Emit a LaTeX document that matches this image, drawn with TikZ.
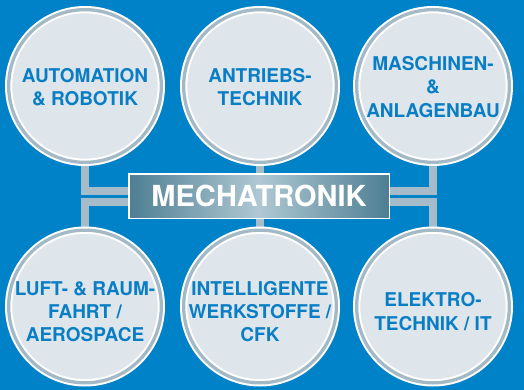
\documentclass[tikz,border=0pt]{standalone}
\usepackage{fontspec}
\setmainfont{TeX Gyre Heros}
\usetikzlibrary{backgrounds}
\definecolor{mtblue}{HTML}{0082C8}
\definecolor{mttext}{HTML}{0A7EC4}
\definecolor{mtfill}{HTML}{DEE6EC}
\definecolor{mtring}{HTML}{A3BAC6}
\definecolor{mtlink}{HTML}{A6BDC9}
\definecolor{mtdark}{HTML}{4E7E93}
\definecolor{mtlight}{HTML}{AFC8D3}

\begin{document}
\begin{tikzpicture}[x=1pt,y=1pt,
  topic/.style={circle,draw=white,line width=2pt,double=mtring,double distance=3.3pt,
    fill=mtfill,minimum size=152.7pt,inner sep=0pt},
  topictext/.style={text=mttext,font=\bfseries\fontsize{19}{23.3}\selectfont,align=center},
  core/.style={draw=white,line width=1.5pt,left color=mtdark,right color=mtdark,
    middle color=mtlight,minimum width=260.5pt,minimum height=44.5pt,inner sep=0pt,
    text=white,font=\bfseries\fontsize{29}{34}\selectfont},
  link/.style={draw=mtlink,line width=8.5pt}]
  \useasboundingbox (0,0) rectangle (524,-390);
  \node[core] (mech) at (259,-196) {MECHATRONIK};
  \foreach \name/\x/\y/\dy/\txt in {
      auto/85/-86/-1pt/{AUTOMATION\\\& ROBOTIK},
      antr/260/-86/-1pt/{ANTRIEBS-\\TECHNIK},
      masch/433/-86/-1pt/{MASCHINEN-\\\&\\ANLAGENBAU},
      luft/85/-306.5/-5pt/{LUFT- \& RAUM-\\FAHRT /\\AEROSPACE},
      intel/260/-306.5/-5pt/{INTELLIGENTE\\WERKSTOFFE /\\CFK},
      elek/433/-306.5/-5pt/{ELEKTRO-\\TECHNIK / IT}}
    \node[topic,label={[topictext,yshift=\dy]center:{\txt}}] (\name) at (\x,\y) {};
  \begin{scope}[on background layer]
    \fill[mtblue] (0,0) rectangle (524,-390);
    \draw[link] (auto) |- ([yshift=5pt]mech.west);
    \draw[link] (luft) |- ([yshift=-6pt]mech.west);
    \draw[link] (masch) |- ([yshift=5pt]mech.east);
    \draw[link] (elek) |- ([yshift=-6pt]mech.east);
    \draw[link] (antr) -- (antr |- mech.north);
    \draw[link] (intel) -- (intel |- mech.south);
  \end{scope}
\end{tikzpicture}
\end{document}
